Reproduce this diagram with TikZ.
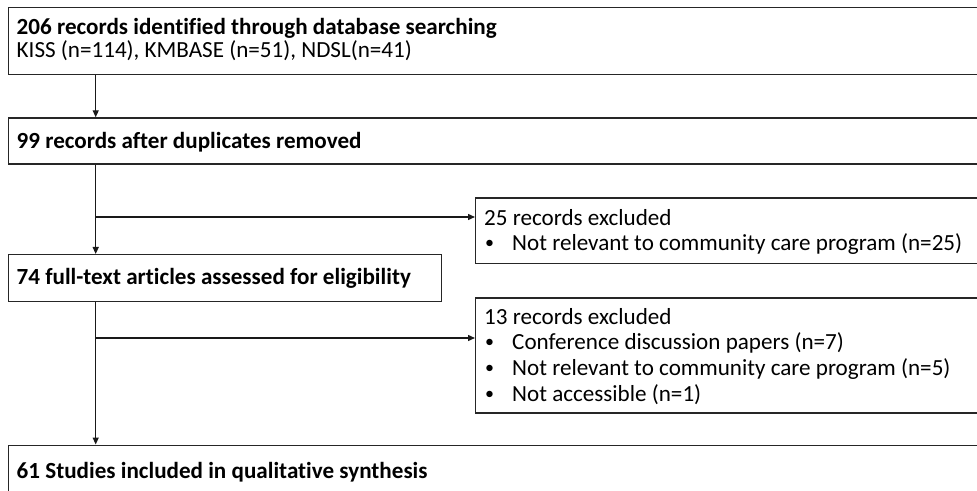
\documentclass[tikz,border=0pt]{standalone}
\usepackage{fontspec}
\setmainfont{Carlito}[Ligatures={NoCommon,NoRequired,NoContextual}]
\usetikzlibrary{arrows.meta}
\begin{document}
\begin{tikzpicture}[x=1bp,y=-1bp,
  box/.style={draw=black!85,line width=1.3bp,rectangle,inner sep=0pt,anchor=north west},
  txt/.style={inner sep=0pt,anchor=base west,font=\fontsize{23.1bp}{25bp}\selectfont},
  bul/.style={inner sep=0pt,anchor=base west,font=\fontsize{18bp}{25bp}\selectfont},
  arr/.style={draw=black!90,line width=1.3bp,-{Triangle[length=7bp,width=6bp]}},
  ln/.style={draw=black!90,line width=1.3bp}]
\useasboundingbox (0,0) rectangle (977,491);
\clip (0,0) rectangle (977,491);
% boxes
\node[box,minimum width=1000bp,minimum height=67.3bp] (b1) at (8,6.7) {};
\node[box,minimum width=1000bp,minimum height=46bp] (b2) at (8,117.3) {};
\node[box,minimum width=1000bp,minimum height=65.5bp] (b4) at (475,197.5) {};
\node[box,minimum width=433bp,minimum height=47bp] (b3) at (8,254) {};
\node[box,minimum width=1000bp,minimum height=115bp] (b5) at (475,297.3) {};
\node[box,minimum width=1000bp,minimum height=60bp] (b6) at (8,444.5) {};
% texts
\node[txt] (t1a) at (16.5,35) {\bfseries 206 records identified through database searching};
\node[txt] (t1b) at (16.5,57.3) {KISS (n=114), KMBASE (n=51), NDSL(n=41)};
\node[txt] (t2) at (16.5,148.3) {\bfseries 99 records after duplicates removed};
\node[txt] (t4a) at (484,225.3) {25 records excluded};
\node[bul] (t4b1) at (485,248.5) {•};
\node[txt] (t4b) at (512,250.5) {Not relevant to community care program (n=25)};
\node[txt] (t3) at (16.5,285) {\bfseries 74 full-text articles assessed for eligibility};
\node[txt] (t5a) at (484,324.5) {13 records excluded};
\node[bul] (t5b1) at (485,348) {•};
\node[txt] (t5b) at (512,350) {Conference discussion papers (n=7)};
\node[bul] (t5c1) at (485,373.5) {•};
\node[txt] (t5c) at (512,375.5) {Not relevant to community care program (n=5)};
\node[bul] (t5d1) at (485,399) {•};
\node[txt] (t5d) at (512,401) {Not accessible (n=1)};
\node[txt] (t6) at (16.5,478.5) {\bfseries 61 Studies included in qualitative synthesis};
% connectors
\coordinate (x0) at (95.7,0);
\coordinate (j1) at (95.7,217);
\coordinate (j2) at (95.7,338);
\draw[arr] (b1.south -| x0) -- (b2.north -| x0);
\draw[arr] (b2.south -| x0) -- (b3.north -| x0);
\draw[arr] (j1) -- (j1 -| b4.west);
\draw[arr] (b3.south -| x0) -- (b6.north -| x0);
\draw[arr] (j2) -- (j2 -| b5.west);
\end{tikzpicture}
\end{document}
